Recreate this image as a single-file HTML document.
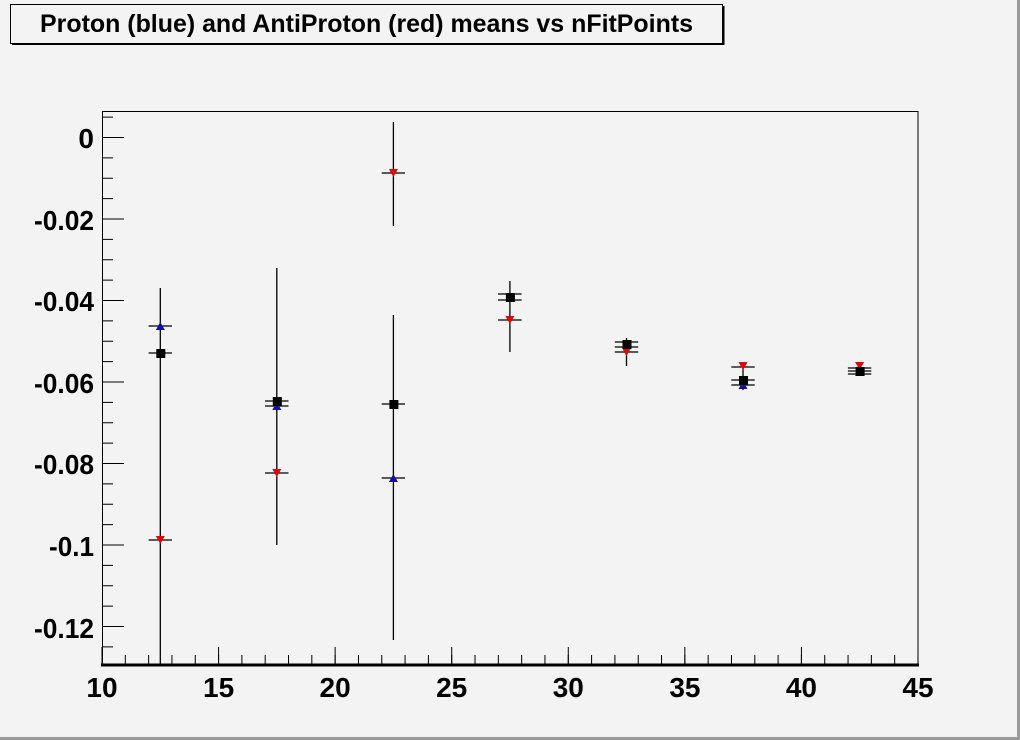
<!DOCTYPE html>
<html><head><meta charset="utf-8"><style>
html,body{margin:0;padding:0;background:#f3f3f3;}
svg{display:block;font-family:"Liberation Sans",Arial,sans-serif;font-weight:bold;}
</style></head><body>
<svg width="1020" height="740" viewBox="0 0 1020 740" xmlns="http://www.w3.org/2000/svg">
<rect x="0" y="0" width="1020" height="740" fill="#f3f3f3"/>
<line x1="0" y1="738.5" x2="1020" y2="738.5" stroke="#9a9a9a" stroke-width="3"/>
<line x1="1018.5" y1="0" x2="1018.5" y2="740" stroke="#9a9a9a" stroke-width="3"/>
<rect x="10.5" y="4.5" width="712" height="39" fill="#f3f3f3" stroke="#000" stroke-width="1"/>
<line x1="12" y1="44" x2="724" y2="44" stroke="#000" stroke-width="2"/>
<line x1="723.5" y1="6" x2="723.5" y2="45" stroke="#000" stroke-width="2"/>
<text x="40" y="32" font-size="25" textLength="653" lengthAdjust="spacingAndGlyphs">Proton (blue) and AntiProton (red) means vs nFitPoints</text>
<rect x="102.5" y="111.5" width="815.5" height="553" fill="none" stroke="#000" stroke-width="1"/>
<line x1="101" y1="665" x2="919" y2="665" stroke="#000" stroke-width="3"/>
<line x1="101.5" y1="660" x2="920" y2="660" stroke="#000" stroke-width="10" stroke-dasharray="1 22.314"/>
<line x1="101.5" y1="656" x2="920" y2="656" stroke="#000" stroke-width="18" stroke-dasharray="1 115.57"/>
<line x1="107.5" y1="116.6" x2="107.5" y2="665" stroke="#000" stroke-width="11" stroke-dasharray="1 19.375"/>
<line x1="113" y1="137" x2="113" y2="665" stroke="#000" stroke-width="22" stroke-dasharray="1 80.5"/>
<g font-size="28" text-anchor="end">
<text x="94" y="148">0</text>
<text x="94" y="230" textLength="60" lengthAdjust="spacingAndGlyphs">-0.02</text>
<text x="94" y="311" textLength="60" lengthAdjust="spacingAndGlyphs">-0.04</text>
<text x="94" y="393" textLength="60" lengthAdjust="spacingAndGlyphs">-0.06</text>
<text x="94" y="474" textLength="60" lengthAdjust="spacingAndGlyphs">-0.08</text>
<text x="94" y="556" textLength="45" lengthAdjust="spacingAndGlyphs">-0.1</text>
<text x="94" y="638" textLength="60" lengthAdjust="spacingAndGlyphs">-0.12</text>
</g>
<g font-size="28" text-anchor="middle">
<text x="102" y="697">10</text>
<text x="218.6" y="697">15</text>
<text x="335.1" y="697">20</text>
<text x="451.7" y="697">25</text>
<text x="568.3" y="697">30</text>
<text x="684.9" y="697">35</text>
<text x="801.4" y="697">40</text>
<text x="918" y="697">45</text>
</g>
<g stroke="#000" stroke-width="1.3">
<line x1="160.3" y1="288" x2="160.3" y2="664"/>
<line x1="276.8" y1="268" x2="276.8" y2="545"/>
<line x1="393.4" y1="315" x2="393.4" y2="640"/>
<line x1="393.4" y1="122" x2="393.4" y2="226"/>
<line x1="509.9" y1="281" x2="509.9" y2="352"/>
<line x1="626.5" y1="338" x2="626.5" y2="366"/>
<line x1="743" y1="362" x2="743" y2="390"/>
<line x1="859.6" y1="364" x2="859.6" y2="376"/>
<path d="M148.6 326H172M148.6 353H172M148.6 540H172
M265 401H288.5M265 406H288.5M265 473H288.5
M381.7 404H405M381.7 478H405M381.7 173H405
M498 294H521.6M498 300H521.6M498 320H521.6
M614.8 342H638.2M614.8 347H638.2M614.8 352H638.2
M731.3 367H754.7M731.3 380H754.7M731.3 385H754.7
M847.9 368H871.3M847.9 371H871.3M847.9 374H871.3" fill="none"/>
</g>
<g fill="#e00000">
<path d="M155.8 536h9l-4.5 8z"/>
<path d="M272.3 469h9l-4.5 8z"/>
<path d="M388.9 169h9l-4.5 8z"/>
<path d="M505.4 316h9l-4.5 8z"/>
<path d="M622 348h9l-4.5 8z"/>
<path d="M738.5 362h9l-4.5 8z"/>
<path d="M855.1 362h9l-4.5 8z"/>
</g>
<g fill="#1010a0">
<path d="M155.8 330h9l-4.5 -8z"/>
<path d="M272.3 410h9l-4.5 -8z"/>
<path d="M388.9 482h9l-4.5 -8z"/>
<path d="M738.5 389h9l-4.5 -8z"/>
<path d="M855.1 376h9l-4.5 -8z"/>
</g>
<g fill="#000">
<rect x="156.3" y="349" width="9" height="9"/>
<rect x="272.8" y="397" width="9" height="9"/>
<rect x="389.4" y="400" width="9" height="9"/>
<rect x="505.9" y="293" width="9" height="9"/>
<rect x="622.5" y="340" width="9" height="9"/>
<rect x="739" y="376" width="9" height="9"/>
<rect x="855.6" y="367" width="9" height="9"/>
</g>
</svg>
</body></html>
